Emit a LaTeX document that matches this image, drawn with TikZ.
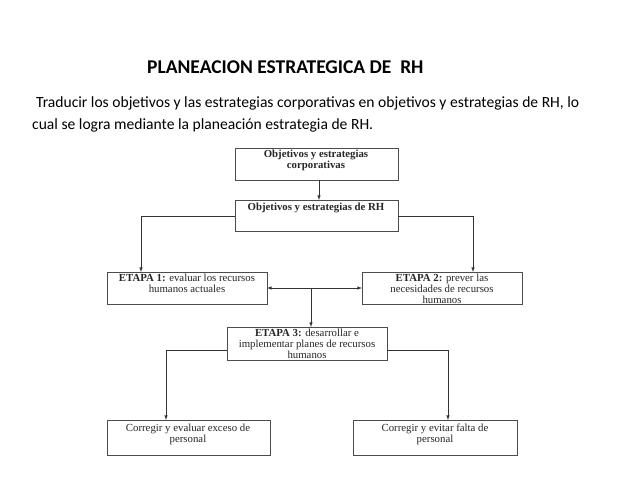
\documentclass[tikz,border=0pt]{standalone}
\usepackage{fontspec}
\setmainfont{Carlito}
\newfontfamily\tms{Liberation Serif}
\begin{document}
\begin{tikzpicture}[x=1pt,y=-1pt,
  bx/.style={draw=black!70,line width=0.8pt,fill=white,inner sep=0pt},
  lbl/.style={font=\tms\fontsize{10.8}{11}\selectfont,align=center,anchor=north,text=black!85,inner sep=0pt},
  con/.style={draw=black!80,line width=0.6pt,-latex}]
\useasboundingbox (0,0) rectangle (638,479);
\node[font=\bfseries\fontsize{19.5}{22}\selectfont,anchor=west,inner sep=0pt] (title) at (147,67) {PLANEACION ESTRATEGICA DE\ \ RH};
\node[font=\fontsize{15.6}{18}\selectfont,anchor=west,inner sep=0pt] (p1) at (36,103) {Traducir los objetivos y las estrategias corporativas en objetivos y estrategias de RH, lo};
\node[font=\fontsize{15.6}{18}\selectfont,anchor=west,inner sep=0pt] (p2) at (32,125) {cual se logra mediante la planeación estrategia de RH.};
% boxes
\draw[bx] (235,148) rectangle (398,180);
\draw[bx] (235,200) rectangle (398,231);
\draw[bx] (107,272) rectangle (267,304);
\draw[bx] (362,272) rectangle (522,304);
\draw[bx] (227,327) rectangle (387,360);
\draw[bx] (107,420) rectangle (270,455);
\draw[bx] (353,420) rectangle (517,455);
\node[lbl] (ta) at (316,150) {\textbf{Objetivos y estrategias}\\\textbf{corporativas}};
\node[lbl] (tb) at (316,203) {\textbf{Objetivos y estrategias de RH}};
\node[lbl] (tc) at (187,274) {\textbf{ETAPA 1:} evaluar los recursos\\humanos actuales};
\node[lbl] (td) at (442,274) {\textbf{ETAPA 2:} prever las\\necesidades de recursos\\humanos};
\node[lbl] (te) at (307,329) {\textbf{ETAPA 3:} desarrollar e\\implementar planes de recursos\\humanos};
\node[lbl] (tf) at (188,424) {Corregir y evaluar exceso de\\personal};
\node[lbl] (tg) at (435,424) {Corregir y evitar falta de\\personal};
% connectors
\coordinate (A) at (319,180); \coordinate (B) at (319,200);
\draw[con] (A) -- (B);
\coordinate (bl) at (235,216); \coordinate (c1) at (141,272);
\draw[con] (bl) -| (c1);
\coordinate (br) at (398,216); \coordinate (d1) at (473,272);
\draw[con] (br) -| (d1);
\coordinate (cr) at (267,288); \coordinate (dl) at (362,288); \coordinate (m) at (311,288); \coordinate (e1) at (311,327);
\draw[con,latex-latex] (cr) -- (dl);
\draw[con] (m) -- (e1);
\coordinate (el) at (227,350); \coordinate (f1) at (166,420);
\draw[con] (el) -| (f1);
\coordinate (er) at (387,350); \coordinate (g1) at (448,420);
\draw[con] (er) -| (g1);
\end{tikzpicture}
\end{document}
